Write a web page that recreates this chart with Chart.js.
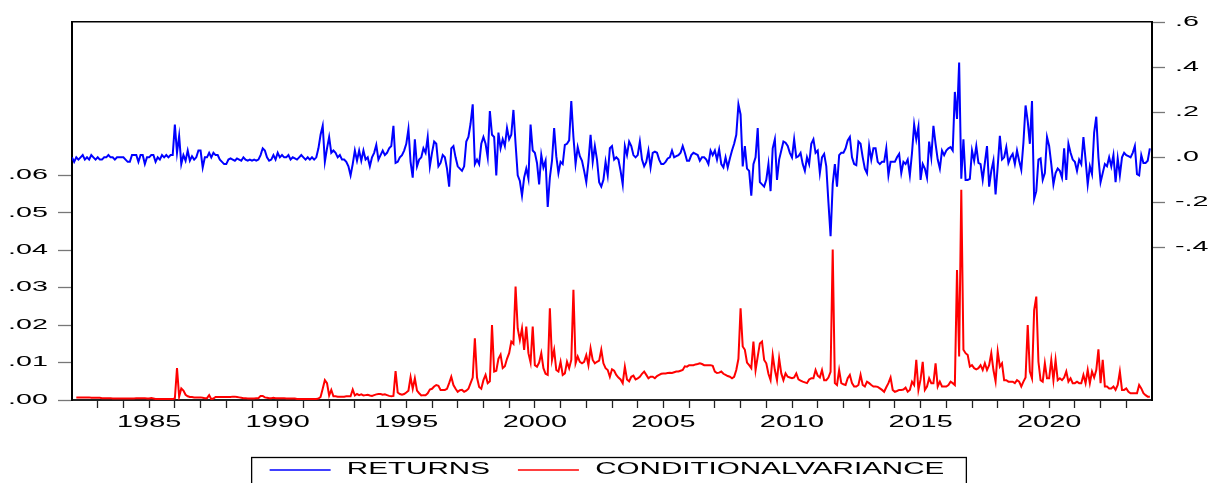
<!DOCTYPE html>
<html>
<head>
<meta charset="utf-8">
<script src="https://cdn.jsdelivr.net/npm/chart.js@4.4.1/dist/chart.umd.min.js"></script>
<style>
html,body{margin:0;padding:0;background:#ffffff;}
canvas{display:block;}
</style>
</head>
<body>
<canvas id="c" width="1214" height="483"></canvas>
<script>
// ---------------- DATA ----------------
const START_YEAR = 1982;            // monthly data, first month 1982M01
const seriesNames = ['RETURNS', 'CONDITIONALVARIANCE'];

const returns = [
/*1982*/ 0.00,-0.02,0.00,-0.01,0.00,0.01,-0.01,0.00,-0.01,0.01,0.00,-0.01,
/*1983*/ 0.00,-0.01,-0.01,0.00,0.00,0.01,0.00,0.00,-0.01,0.00,0.00,0.00,
/*1984*/ 0.00,-0.01,-0.02,-0.02,0.01,0.01,0.01,-0.02,0.01,0.01,-0.03,0.00,
/*1985*/ 0.00,0.01,0.01,-0.02,0.00,-0.01,0.01,0.00,0.01,0.00,0.01,0.01,
/*1986*/ 0.145,0.02,0.095,-0.03,0.01,-0.015,0.03,-0.015,0.005,-0.01,0.00,0.03,
/*1987*/ 0.03,-0.045,0.00,0.00,0.02,0.00,0.02,0.01,0.01,-0.01,-0.02,-0.03,
/*1988*/ -0.03,-0.01,-0.005,-0.01,-0.015,-0.005,-0.01,-0.015,0.00,-0.01,-0.015,-0.01,
/*1989*/ -0.015,-0.01,-0.015,-0.01,0.01,0.04,0.03,0.00,-0.015,-0.01,0.01,-0.01,
/*1990*/ 0.02,0.00,0.01,0.00,0.00,0.01,-0.01,0.00,-0.005,-0.01,0.00,0.01,
/*1991*/ 0.00,-0.01,0.00,-0.01,0.00,-0.01,0.00,0.04,0.10,0.14,-0.02,0.04,
/*1992*/ 0.09,0.02,0.03,0.02,0.00,0.01,-0.01,-0.01,-0.02,-0.04,-0.08,-0.03,
/*1993*/ 0.03,-0.015,0.03,-0.015,0.03,-0.01,0.00,-0.04,0.00,0.02,0.055,-0.01,
/*1994*/ 0.01,0.03,0.01,0.02,0.04,0.05,0.14,-0.025,-0.02,0.00,0.01,0.03,
/*1995*/ 0.06,0.125,-0.02,-0.09,0.08,-0.04,-0.01,0.00,0.04,0.02,0.09,-0.04,
/*1996*/ 0.02,0.07,0.06,-0.04,-0.025,0.01,0.00,-0.05,-0.13,0.04,0.05,0.00,
/*1997*/ -0.04,-0.05,-0.06,-0.04,0.07,0.09,0.15,0.235,-0.03,-0.01,-0.03,0.06,
/*1998*/ 0.09,0.06,0.00,0.205,0.10,0.09,-0.08,0.11,0.04,0.08,0.05,0.13,
/*1999*/ 0.08,0.10,0.21,0.06,-0.08,-0.105,-0.17,-0.09,-0.05,-0.095,0.145,0.03,
/*2000*/ 0.02,-0.025,-0.12,0.01,-0.045,-0.015,-0.22,-0.09,-0.015,0.13,0.005,-0.07,
/*2001*/ -0.02,-0.03,0.055,0.06,0.075,0.25,0.09,-0.03,0.045,0.005,-0.015,-0.06,
/*2002*/ -0.11,-0.02,0.10,-0.02,0.05,-0.01,-0.11,-0.13,-0.10,-0.02,-0.08,0.04,
/*2003*/ 0.05,-0.01,0.00,-0.01,-0.06,-0.12,0.05,0.01,0.07,0.05,0.01,0.00,
/*2004*/ 0.01,0.07,-0.01,-0.04,-0.02,0.03,-0.045,0.02,0.025,0.02,-0.01,-0.03,
/*2005*/ -0.03,-0.02,-0.005,0.00,0.03,0.00,0.005,0.01,0.02,0.05,0.02,-0.015,
/*2006*/ -0.015,0.01,0.02,0.015,0.01,-0.015,0.00,0.00,-0.01,-0.03,0.03,0.01,
/*2007*/ 0.03,-0.01,0.035,-0.03,-0.045,0.00,-0.045,-0.005,0.03,0.06,0.10,0.235,
/*2008*/ 0.19,-0.04,0.05,-0.05,-0.06,-0.17,-0.03,0.00,0.13,-0.11,-0.12,-0.13,
/*2009*/ -0.10,-0.03,-0.15,0.04,0.08,-0.10,-0.01,0.03,0.07,0.065,0.05,0.02,
/*2010*/ 0.00,0.08,0.00,0.005,0.02,-0.03,-0.06,0.00,-0.03,0.06,0.08,0.02,
/*2011*/ 0.03,-0.07,0.00,0.015,-0.04,-0.20,-0.35,-0.12,-0.03,-0.13,0.01,0.02,
/*2012*/ 0.02,0.04,0.075,0.09,0.00,-0.03,-0.035,0.07,0.06,0.00,-0.05,-0.07,
/*2013*/ 0.05,-0.01,0.04,0.04,-0.02,-0.03,-0.02,-0.02,0.04,-0.08,-0.02,-0.02,
/*2014*/ -0.02,0.00,0.015,-0.07,-0.02,-0.03,-0.01,-0.08,0.02,0.145,0.08,0.135,
/*2015*/ -0.10,-0.03,-0.05,-0.09,0.07,0.00,0.14,0.06,-0.01,-0.05,0.03,0.01,
/*2016*/ 0.03,0.04,0.045,0.03,0.29,0.17,0.42,-0.095,0.08,-0.10,-0.10,-0.095,
/*2017*/ 0.03,-0.015,0.05,-0.025,-0.03,-0.10,-0.025,0.05,-0.13,-0.06,-0.015,-0.165,
/*2018*/ -0.04,0.095,-0.01,0.00,0.045,-0.025,0.00,0.015,-0.03,0.03,-0.015,-0.055,
/*2019*/ 0.065,0.23,0.16,0.06,0.25,-0.185,-0.15,-0.01,-0.005,-0.10,-0.07,0.09,
/*2020*/ 0.05,-0.03,-0.12,-0.07,-0.05,-0.06,-0.09,0.04,-0.10,0.06,0.02,-0.01,
/*2021*/ -0.02,-0.06,-0.01,-0.03,0.09,-0.01,-0.12,-0.04,-0.075,0.11,0.18,0.00,
/*2022*/ -0.11,-0.07,-0.03,-0.04,0.00,-0.04,0.01,-0.11,-0.005,-0.08,0.00,0.02,
/*2023*/ 0.01,0.005,0.00,0.02,0.05,-0.075,-0.08,0.01,-0.025,-0.025,-0.015,0.04
];

const condVariance = [
/*1982*/ null,null,0.0007,0.0007,0.0007,0.0007,0.0007,0.0007,0.0007,0.0006,0.0006,0.0006,
/*1983*/ 0.0006,0.0006,0.0005,0.0005,0.0005,0.0005,0.0005,0.0004,0.0004,0.0004,0.0004,0.0004,
/*1984*/ 0.0004,0.0004,0.0004,0.0004,0.0004,0.0004,0.0005,0.0005,0.0005,0.0005,0.0005,0.0004,
/*1985*/ 0.0004,0.0005,0.0004,0.0003,0.0003,0.0003,0.0003,0.0003,0.0003,0.0003,0.0003,0.0003,
/*1986*/ 0.0004,0.0085,0.0009,0.0031,0.0025,0.0014,0.0010,0.0008,0.0008,0.0007,0.0007,0.0007,
/*1987*/ 0.0007,0.0006,0.0005,0.0005,0.0013,0.0002,0.0004,0.0008,0.0008,0.0008,0.0008,0.0008,
/*1988*/ 0.0008,0.0008,0.0008,0.0009,0.0009,0.0008,0.0007,0.0006,0.0005,0.0005,0.0004,0.0004,
/*1989*/ 0.0004,0.0004,0.0005,0.0005,0.0011,0.0011,0.0007,0.0006,0.0005,0.0005,0.0006,0.0005,
/*1990*/ 0.0005,0.0005,0.0005,0.0005,0.0004,0.0004,0.0004,0.0004,0.0004,0.0003,0.0003,0.0003,
/*1991*/ 0.0003,0.0003,0.0003,0.0003,0.0003,0.0003,0.0003,0.0004,0.0008,0.0030,0.0053,0.0045,
/*1992*/ 0.0012,0.0027,0.0010,0.0010,0.0009,0.0009,0.0009,0.0009,0.0010,0.0010,0.0010,0.0028,
/*1993*/ 0.0012,0.0016,0.0013,0.0015,0.0012,0.0013,0.0014,0.0012,0.0011,0.0013,0.0015,0.0016,
/*1994*/ 0.0016,0.0014,0.0015,0.0013,0.0011,0.0010,0.0011,0.0077,0.0020,0.0016,0.0014,0.0016,
/*1995*/ 0.0020,0.0025,0.0061,0.0030,0.0058,0.0025,0.0018,0.0012,0.0013,0.0013,0.0018,0.0028,
/*1996*/ 0.0030,0.0036,0.0040,0.0038,0.0027,0.0027,0.0027,0.0030,0.0045,0.0062,0.0040,0.0030,
/*1997*/ 0.0022,0.0026,0.0027,0.0022,0.0025,0.0030,0.0045,0.0060,0.0165,0.0060,0.0035,0.0030,
/*1998*/ 0.0053,0.0067,0.0045,0.0050,0.0200,0.0076,0.0078,0.0110,0.0121,0.0085,0.0090,0.0110,
/*1999*/ 0.0125,0.0156,0.0150,0.0303,0.0191,0.0160,0.0191,0.0134,0.0196,0.0125,0.0100,0.0196,
/*2000*/ 0.0093,0.0089,0.0100,0.0125,0.0085,0.0070,0.0067,0.0245,0.0107,0.0134,0.0080,0.0076,
/*2001*/ 0.0102,0.0067,0.0071,0.0102,0.0085,0.0107,0.0294,0.0098,0.0116,0.0102,0.0098,0.0102,
/*2002*/ 0.0120,0.0093,0.0138,0.0107,0.0098,0.0102,0.0105,0.0134,0.0098,0.0085,0.0080,0.0062,
/*2003*/ 0.0082,0.0078,0.0067,0.0060,0.0055,0.0045,0.0089,0.0055,0.0050,0.0062,0.0065,0.0055,
/*2004*/ 0.0058,0.0062,0.0070,0.0076,0.0067,0.0058,0.0062,0.0062,0.0058,0.0064,0.0067,0.0070,
/*2005*/ 0.0071,0.0071,0.0072,0.0073,0.0072,0.0074,0.0076,0.0076,0.0078,0.0080,0.0090,0.0089,
/*2006*/ 0.0093,0.0093,0.0093,0.0095,0.0096,0.0098,0.0096,0.0093,0.0093,0.0093,0.0093,0.0091,
/*2007*/ 0.0076,0.0072,0.0073,0.0076,0.0070,0.0067,0.0064,0.0062,0.0058,0.0062,0.0080,0.0110,
/*2008*/ 0.0245,0.0143,0.0134,0.0100,0.0093,0.0085,0.0156,0.0080,0.0116,0.0151,0.0156,0.0107,
/*2009*/ 0.0098,0.0070,0.0053,0.0120,0.0080,0.0053,0.0111,0.0071,0.0053,0.0071,0.0062,0.0060,
/*2010*/ 0.0058,0.0060,0.0071,0.0055,0.0052,0.0049,0.0047,0.0045,0.0055,0.0058,0.0058,0.0080,
/*2011*/ 0.0065,0.0060,0.0080,0.0053,0.0053,0.0060,0.0075,0.0402,0.0045,0.0040,0.0080,0.0045,
/*2012*/ 0.0042,0.0040,0.0058,0.0067,0.0045,0.0036,0.0036,0.0040,0.0067,0.0040,0.0036,0.0049,
/*2013*/ 0.0045,0.0040,0.0036,0.0036,0.0035,0.0031,0.0027,0.0022,0.0034,0.0045,0.0060,0.0027,
/*2014*/ 0.0022,0.0024,0.0027,0.0027,0.0028,0.0033,0.0022,0.0027,0.0049,0.0040,0.0107,0.0027,
/*2015*/ 0.0055,0.0102,0.0027,0.0036,0.0058,0.0045,0.0045,0.0098,0.0036,0.0049,0.0036,0.0036,
/*2016*/ 0.0036,0.0040,0.0049,0.0045,0.0040,0.0347,0.0116,0.0561,0.0134,0.0125,0.0120,0.0089,
/*2017*/ 0.0093,0.0085,0.0082,0.0085,0.0093,0.0080,0.0098,0.0080,0.0093,0.0125,0.0080,0.0050,
/*2018*/ 0.0129,0.0089,0.0098,0.0053,0.0053,0.0049,0.0049,0.0049,0.0045,0.0053,0.0049,0.0036,
/*2019*/ 0.0049,0.0060,0.0200,0.0076,0.0058,0.0240,0.0276,0.0102,0.0053,0.0049,0.0098,0.0058,
/*2020*/ 0.0058,0.0107,0.0053,0.0107,0.0053,0.0058,0.0053,0.0060,0.0076,0.0049,0.0058,0.0045,
/*2021*/ 0.0045,0.0049,0.0045,0.0045,0.0067,0.0045,0.0080,0.0045,0.0076,0.0060,0.0080,0.0135,
/*2022*/ 0.0045,0.0107,0.0036,0.0036,0.0031,0.0031,0.0036,0.0027,0.0040,0.0076,0.0027,0.0027,
/*2023*/ 0.0031,0.0022,0.0018,0.0018,0.0018,0.0018,0.0040,0.0031,0.0018,0.0013,0.0009,0.0009
];

const leftTicks  = [0, 0.01, 0.02, 0.03, 0.04, 0.05, 0.06];
const rightTicks = [-0.4, -0.2, 0, 0.2, 0.4, 0.6];
const yearTicks  = [1983,1984,1985,1986,1987,1988,1989,1990,1991,1992,1993,1994,1995,1996,1997,
                    1998,1999,2000,2001,2002,2003,2004,2005,2006,2007,2008,2009,2010,2011,2012,
                    2013,2014,2015,2016,2017,2018,2019,2020,2021,2022,2023];
const labeledYears = [1985,1990,1995,2000,2005,2010,2015,2020];

// ---------------- STYLE / LAYOUT ----------------
const X_MIN = 1982, X_MAX = 2024;
const LEFT_MIN = 0, LEFT_MAX = 0.1009;
const RIGHT_MIN = -1.076, RIGHT_MAX = 0.6;
const FONT = 'Liberation Sans';
const TEXT_STRETCH = {14: 2.05, 17: 1.7, 16: 1.85};   // the source figure's text is horizontally stretched

const toPoints = arr => arr.map((v, i) => ({x: START_YEAR + i / 12, y: v}));

const stretchText = {
  id: 'stretchText',
  beforeInit(chart) {
    const ctx = chart.ctx;
    const factor = () => {
      const m = /(\d+(?:\.\d+)?)px/.exec(ctx.font);
      return (m && TEXT_STRETCH[Math.round(parseFloat(m[1]))]) || 1;
    };
    const origMeasure = ctx.measureText.bind(ctx);
    const origFill = ctx.fillText.bind(ctx);
    ctx.measureText = function (t) {
      const m = origMeasure(t);
      return {width: m.width * factor(), actualBoundingBoxAscent: m.actualBoundingBoxAscent,
              actualBoundingBoxDescent: m.actualBoundingBoxDescent};
    };
    ctx.fillText = function (t, x, y) {
      const f = factor();
      ctx.save();
      ctx.translate(x, y);
      ctx.scale(f, 1);
      origFill(t, 0, 0);
      ctx.restore();
    };
  }
};

const legendFrame = {
  id: 'legendFrame',
  afterDraw(chart) {
    const hb = chart.legend && chart.legend.legendHitBoxes;
    if (!hb || !hb.length) return;
    const first = hb[0], last = hb[hb.length - 1];
    const ctx = chart.ctx;
    ctx.save();
    ctx.strokeStyle = '#000';
    ctx.lineWidth = 1.3;
    const left = first.left - 18, right = last.left + last.width + 22, top = first.top - 4.5;
    ctx.strokeRect(left, top, right - left, 60);
    ctx.restore();
  }
};

const fmtLeft = v => v.toFixed(2).replace(/^0/, '');
const fmtRight = v => (v < 0 ? '-' : '') + Math.abs(v).toFixed(1).replace(/^0/, '');

new Chart(document.getElementById('c'), {
  type: 'line',
  data: {
    datasets: [
      {label: seriesNames[0], data: toPoints(returns), yAxisID: 'yR', borderColor: '#0000ff',
       backgroundColor: '#0000ff', borderWidth: 2, pointRadius: 0, tension: 0, fill: false},
      {label: seriesNames[1], data: toPoints(condVariance), yAxisID: 'yL', borderColor: '#ff0000',
       backgroundColor: '#ff0000', borderWidth: 2, pointRadius: 0, tension: 0, fill: false, spanGaps: false}
    ]
  },
  options: {
    responsive: false,
    animation: false,
    devicePixelRatio: 1,
    parsing: true,
    layout: {padding: {top: 22, left: 0, right: 0, bottom: 0}},
    plugins: {
      tooltip: {enabled: false},
      legend: {
        position: 'bottom',
        maxHeight: 49,
        labels: {
          color: '#000',
          font: {family: FONT, size: 16},
          usePointStyle: true,
          pointStyle: 'line',
          pointStyleWidth: 61,
          padding: 28,
          generateLabels(chart) {
            const items = Chart.defaults.plugins.legend.labels.generateLabels(chart);
            items.forEach(it => { it.lineWidth = 1.3; it.text = ' ' + it.text; });
            return items;
          }
        }
      }
    },
    scales: {
      x: {
        type: 'linear', position: 'bottom', min: X_MIN, max: X_MAX,
        afterBuildTicks: s => { s.ticks = yearTicks.map(v => ({value: v})); },
        afterFit: s => { s.height = 34; },
        ticks: {
          autoSkip: false, maxRotation: 0, minRotation: 0, padding: 4, color: '#000',
          font: {family: FONT, size: 17},
          callback: v => labeledYears.includes(v) ? String(v) : ''
        },
        grid: {drawOnChartArea: false, drawTicks: true, tickLength: 8, tickColor: '#222', tickWidth: 1.3},
        border: {display: true, color: '#222', width: 2}
      },
      xTop: {
        type: 'linear', position: 'top', min: X_MIN, max: X_MAX,
        afterFit: s => { s.height = 0; },
        ticks: {display: false},
        grid: {drawOnChartArea: false, drawTicks: false},
        border: {display: true, color: '#000', width: 1.5}
      },
      yL: {
        type: 'linear', position: 'left', min: LEFT_MIN, max: LEFT_MAX,
        afterBuildTicks: s => { s.ticks = leftTicks.map(v => ({value: v})); },
        afterFit: s => { s.width = 72; },
        ticks: {padding: 10, color: '#000', font: {family: FONT, size: 14}, callback: v => fmtLeft(v)},
        grid: {drawOnChartArea: false, drawTicks: true, tickLength: 14, tickColor: '#777', tickWidth: 1.3},
        border: {display: true, color: '#000', width: 2}
      },
      yR: {
        type: 'linear', position: 'right', min: RIGHT_MIN, max: RIGHT_MAX,
        afterBuildTicks: s => { s.ticks = rightTicks.map(v => ({value: v})); },
        afterFit: s => { s.width = 62; },
        ticks: {padding: 10, color: '#000', font: {family: FONT, size: 14}, callback: v => fmtRight(v)},
        grid: {drawOnChartArea: false, drawTicks: true, tickLength: 13, tickColor: '#777', tickWidth: 1.3},
        border: {display: true, color: '#000', width: 2}
      }
    }
  },
  plugins: [stretchText, legendFrame]
});
</script>
</body>
</html>
